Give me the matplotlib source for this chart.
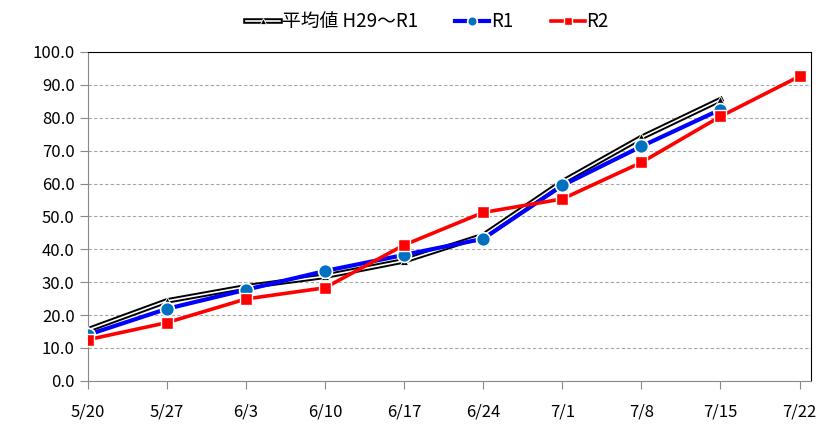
import matplotlib.pyplot as plt
import matplotlib.patheffects as pe
from matplotlib.legend_handler import HandlerTuple

plt.rcParams['font.family'] = ['Noto Sans CJK JP', 'DejaVu Sans']

# データ
dates = ["5/20", "5/27", "6/3", "6/10", "6/17", "6/24", "7/1", "7/8", "7/15", "7/22"]
avg = [15.5, 24.3, 28.6, 31.8, 36.5, 44.2, 60.5, 74.0, 85.5]
r1 = [14.0, 21.9, 27.7, 33.4, 38.3, 43.2, 59.4, 71.3, 82.5]
r2 = [12.5, 17.7, 24.9, 28.3, 41.3, 51.2, 55.3, 66.4, 80.4, 92.6]

fig = plt.figure(figsize=(8.28, 4.26), dpi=100)
ax = fig.add_axes([0.106, 0.106, 0.873, 0.772])

x_avg = list(range(len(avg)))
x_r1 = list(range(len(r1)))
x_r2 = list(range(len(r2)))

# 平均値 (白抜きの黒線)
avg_line, = ax.plot(x_avg, avg, color="white", lw=1.2, zorder=3,
                    path_effects=[pe.Stroke(linewidth=4.0, foreground="black"), pe.Normal()])
avg_mark, = ax.plot(x_avg, avg, ls="none", marker="^", ms=6,
                    mfc="black", mec="white", mew=0.6, zorder=3)

# R1
r1_line, = ax.plot(x_r1, r1, color="#0000FF", lw=3, marker="o", ms=10,
                   mfc="#0070C0", mec="white", mew=1.2, zorder=4)

# R2
r2_line, = ax.plot(x_r2, r2, color="#FF0000", lw=2.6, marker="s", ms=9,
                   mfc="#FF0000", mec="white", mew=1.0, zorder=5)

ax.set_xlim(0, 9.14)
ax.set_ylim(0, 100)
ax.set_xticks(range(len(dates)))
ax.set_xticklabels(dates)
ax.set_yticks(range(0, 101, 10))
ax.set_yticklabels([f"{v:.1f}" for v in range(0, 101, 10)])

for v in range(10, 100, 10):
    ax.axhline(v, color="#A6A6A6", lw=0.8, ls=(0, (3, 2)), zorder=1)

for s in ["left", "bottom"]:
    ax.spines[s].set_color("#888888")
for s in ["top", "right"]:
    ax.spines[s].set_color("black")
ax.tick_params(axis="both", colors="#888888", length=6, labelcolor="black",
               labelsize=12, direction="out")
ax.tick_params(axis="x", pad=10)

ax.legend([(avg_line, avg_mark), r1_line, r2_line],
          ["平均値 H29～R1", "R1", "R2"],
          handler_map={tuple: HandlerTuple(ndivide=1)},
          loc="upper center", bbox_to_anchor=(0.47, 1.175), ncol=3, frameon=False,
          fontsize=13.5, handlelength=1.8, handletextpad=0.1, columnspacing=2.0,
          markerscale=0.7)

plt.savefig("out.png", dpi=100)
